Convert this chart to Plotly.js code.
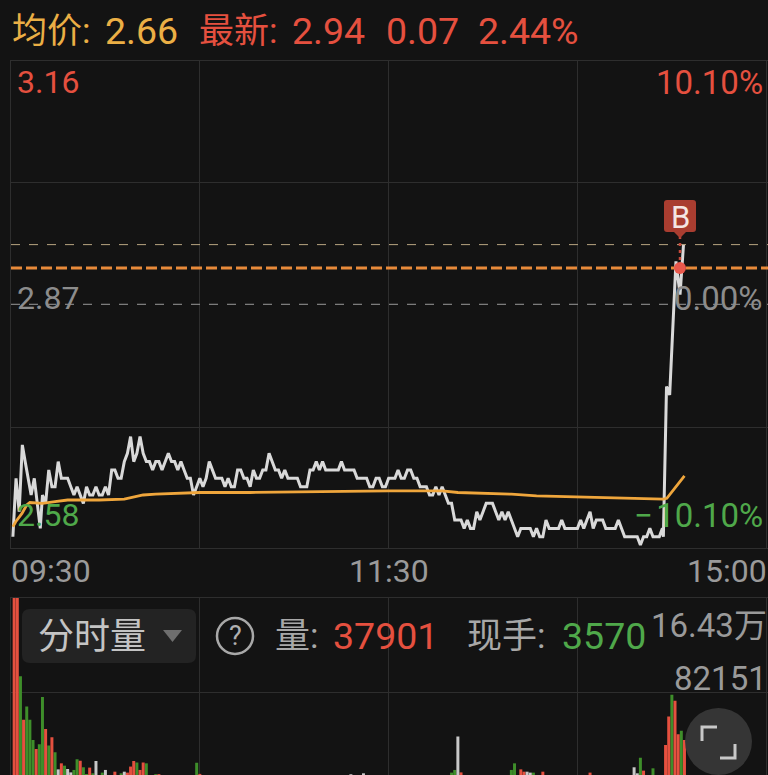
<!DOCTYPE html>
<html><head><meta charset="utf-8">
<script src="https://cdn.plot.ly/plotly-3.0.1.min.js"></script>
<style>html,body{margin:0;padding:0;background:#131313;overflow:hidden}#c{width:768px;height:775px}</style>
</head><body><div id="c"></div>
<script>
const price = [
2.59,2.66,2.62,2.70,2.68,2.66,2.64,2.66,2.63,2.60,
2.64,2.63,2.67,2.65,2.65,2.68,2.66,2.66,2.66,2.65,
2.64,2.65,2.64,2.63,2.65,2.64,2.64,2.65,2.64,2.64,
2.65,2.64,2.67,2.67,2.66,2.66,2.68,2.69,2.71,2.68,
2.69,2.71,2.69,2.68,2.68,2.67,2.68,2.68,2.67,2.68,
2.69,2.68,2.68,2.67,2.68,2.67,2.66,2.66,2.64,2.65,
2.66,2.65,2.66,2.68,2.67,2.66,2.66,2.66,2.65,2.66,
2.65,2.65,2.67,2.67,2.66,2.66,2.65,2.67,2.66,2.66,
2.67,2.67,2.69,2.68,2.67,2.67,2.66,2.67,2.66,2.66,
2.66,2.66,2.65,2.65,2.65,2.67,2.67,2.68,2.67,2.68,
2.67,2.67,2.67,2.67,2.67,2.68,2.67,2.67,2.67,2.67,
2.66,2.66,2.66,2.66,2.65,2.65,2.66,2.66,2.65,2.65,
2.66,2.66,2.66,2.67,2.66,2.66,2.67,2.67,2.66,2.66,
2.65,2.65,2.65,2.64,2.64,2.65,2.64,2.65,2.64,2.63,
2.63,2.61,2.61,2.61,2.60,2.61,2.60,2.60,2.62,2.61,
2.62,2.63,2.63,2.63,2.62,2.61,2.62,2.61,2.62,2.61,
2.60,2.59,2.60,2.60,2.60,2.60,2.59,2.60,2.59,2.59,
2.61,2.60,2.60,2.60,2.60,2.61,2.60,2.60,2.60,2.60,
2.60,2.61,2.60,2.61,2.62,2.60,2.61,2.61,2.61,2.60,
2.60,2.60,2.60,2.61,2.60,2.59,2.59,2.59,2.59,2.59,
2.58,2.59,2.59,2.60,2.59,2.59,2.59,2.60,2.59,2.77,
2.76,2.84,2.92,2.88,2.94];
const priceMinuteShift = {0:0.6,1:0.6,2:0.6,3:0.6,4:0.5,5:0.5,6:0.4,7:0.4,8:0.3,9:0.3,208:-0.7,209:-0.7,210:-0.7,211:-0.7,212:-0.7,213:-0.4,214:-0.3};
const avgMinute = [0.6,1.5,3.5,5,6,10,14,18,28,36,42,46,60,76,120,137,142,159,167,207.3,208.4,214];
const avgPrice = [2.602,2.608,2.618,2.628,2.631,2.63,2.632,2.634,2.634,2.635,2.64,2.641,2.643,2.643,2.645,2.645,2.643,2.641,2.639,2.635,2.636,2.663];
const redMinute = [1,2,4,8,11,13,16,22,25,33,37,38,39,41,42,47,60,143,162,163,169,184,201,208,209,211,212,214];
const redVol = [164300,164300,58800,33700,51000,43800,21300,23600,17600,14100,13300,18500,23300,15600,22000,12000,12200,13500,16100,14100,14100,13300,15000,37200,61700,75200,46400,41500];
const greenMinute = [3,5,6,7,9,10,12,14,17,20,21,23,24,26,29,35,40,43,46,59,140,141,159,160,166,200,204,210,213];
const greenVol = [96300,70300,58800,41500,37800,78400,36600,30800,19300,15600,24800,17900,12100,12700,13300,12700,22000,21300,12000,21800,13300,15600,15600,21300,13300,26200,17000,80400,49300];
const grayMinute = [15,18,19,27,30,36,108,112,142,164,165,198,199];
const grayVol = [16100,16400,13500,23300,15600,14100,11900,12700,44400,14100,13300,17900,12700];

const BG='#131313',GRID='#2e2e2e',RED='#E5503F',GREEN='#4FA84A',AMBER='#EBAF45',GREY='#9a9a9a';
const BARG='#3E8E2A';
const W=768,H=775;
const fx=x=>x/W, fy=y=>1-y/H;
const FONT='Roboto, "Noto Sans CJK SC", sans-serif';
const minutes=price.map((_,i)=>i+(priceMinuteShift[i]||0));
const xr=[0,(W-11)/3.147];

function txt(x,y,text,size,color,anchor){
  return {xref:'paper',yref:'paper',x:fx(x),y:fy(y),text:text,showarrow:false,
    xanchor:anchor||'left',yanchor:'middle',font:{family:FONT,size:size,color:color},borderpad:0,borderwidth:0,captureevents:false};
}
function pr(d,fill,extra){return Object.assign({type:'path',xref:'paper',yref:'paper',path:d,fillcolor:fill||'rgba(0,0,0,0)',line:{width:0}},extra||{});}
const P=(x,y)=>fx(x)+' '+fy(y);

const annotations=[
 txt(12,31,'均价:',35,AMBER),
 txt(105,31,'2.66',37.5,AMBER),
 txt(199,31,'最新:',35,RED),
 txt(292,31,'2.94',37.5,RED),
 txt(386,31,'0.07',37.5,RED),
 txt(478,31,'2.44%',37.5,RED),
 txt(17,82,'3.16',32,RED),
 txt(763,82,'10.10%',33,RED,'right'),
 txt(17,298,'2.87',32,'#8c8c8c'),
 txt(763,298,'0.00%',33,'#8c8c8c','right'),
 txt(17,515,'2.58',32,GREEN),
 txt(763,515,'−\u200a10.10%',33,GREEN,'right'),
 txt(11,571,'09:30',32,GREY),
 txt(389,571,'11:30',32,GREY,'center'),
 txt(767,571,'15:00',32,GREY,'right'),
 txt(92,637,'分时量',36,'#c4c4c4','center'),
 txt(235,636,'?',27,'#b0b0b0','center'),
 txt(275,636,'量:',35,'#a8a8a8'),
 txt(333,636,'37901',37.5,RED),
 txt(467,636,'现手:',35,'#a8a8a8'),
 txt(562,636,'3570',37.5,GREEN),
 txt(767,625,'16.43万',33,GREY,'right'),
 txt(767,678,'82151',33,GREY,'right'),
 txt(680,217,'B',31,'#f4e6e3','center')
];

const hline=(y,color,w,dash)=>({type:'line',xref:'x',yref:'y',x0:xr[0],x1:xr[1],y0:y,y1:y,line:{color:color,width:w,dash:dash},layer:'above'});
const shapes=[
 hline(2.94,'#b8a480',1,'9px,9px'),
 hline(2.912,'#E88A3A',3,'11px,4px'),
 hline(2.8685,'#999999',1,'9px,9px'),
 {type:'line',xref:'paper',yref:'paper',x0:fx(680),x1:fx(680),y0:fy(236),y1:fy(268),line:{color:'#C5483A',width:2.5,dash:'3px,4px'}},
 {type:'circle',xref:'paper',yref:'paper',x0:fx(674),x1:fx(686),y0:fy(262),y1:fy(274),fillcolor:'#E8584C',line:{width:0}},
 pr(`M ${P(667,200)} L ${P(693,200)} Q ${P(696,200)} ${P(696,203)} L ${P(696,229)} Q ${P(696,232)} ${P(693,232)} L ${P(686,232)} L ${P(680,238)} L ${P(674,232)} L ${P(667,232)} Q ${P(664,232)} ${P(664,229)} L ${P(664,203)} Q ${P(664,200)} ${P(667,200)} Z`,'#A93D30'),
 pr(`M ${P(30,609)} L ${P(188,609)} Q ${P(196,609)} ${P(196,617)} L ${P(196,655)} Q ${P(196,663)} ${P(188,663)} L ${P(30,663)} Q ${P(22,663)} ${P(22,655)} L ${P(22,617)} Q ${P(22,609)} ${P(30,609)} Z`,'#232323'),
 pr(`M ${P(163,630)} L ${P(182,630)} L ${P(172.5,642)} Z`,'#6e6e6e'),
 {type:'circle',xref:'paper',yref:'paper',x0:fx(217),x1:fx(253),y0:fy(618),y1:fy(654),fillcolor:'rgba(0,0,0,0)',line:{color:'#a8a8a8',width:2.5}},
 {type:'circle',xref:'paper',yref:'paper',x0:fx(685),x1:fx(752),y0:fy(708),y1:fy(775),fillcolor:'rgba(55,55,55,0.95)',line:{width:0}},
 {type:'path',xref:'paper',yref:'paper',path:`M ${P(702,741)} L ${P(702,727)} L ${P(717,727)}`,line:{color:'#c8c8c8',width:3}},
 {type:'path',xref:'paper',yref:'paper',path:`M ${P(720,758)} L ${P(735,758)} L ${P(735,744)}`,line:{color:'#c8c8c8',width:3}}
];

const bar=(x,y,c,name)=>({type:'bar',x:x,y:y,xaxis:'x2',yaxis:'y2',marker:{color:c,line:{width:0}},width:0.95,name:name,hoverinfo:'skip'});
const data=[
 bar(greenMinute,greenVol,BARG,'跌'),
 bar(redMinute,redVol,RED,'涨'),
 bar(grayMinute,grayVol,'#c8c8c8','平'),
 {type:'scatter',mode:'lines',x:minutes,y:price,xaxis:'x',yaxis:'y',line:{color:'#d9d9d9',width:3,shape:'linear'},name:'最新',hoverinfo:'skip'},
 {type:'scatter',mode:'lines',x:avgMinute,y:avgPrice,xaxis:'x',yaxis:'y',line:{color:'#EFA63C',width:2.8},name:'均价',hoverinfo:'skip'}
];
const xa=a=>Object.assign({domain:[11/W,1],range:xr,tickmode:'array',tickvals:[60,120,180,240],ticks:'',showticklabels:false,showgrid:true,gridcolor:GRID,gridwidth:1,zeroline:false,showline:true,linecolor:GRID,linewidth:1,mirror:true,fixedrange:true},a);
const ya=a=>Object.assign({tickmode:'array',showticklabels:false,ticks:'',gridcolor:GRID,gridwidth:1,zeroline:false,showline:true,linecolor:GRID,linewidth:1,fixedrange:true},a);
const layout={
 width:W,height:H,margin:{l:0,r:0,t:0,b:0,pad:0},paper_bgcolor:BG,plot_bgcolor:BG,showlegend:false,barmode:'overlay',
 xaxis:xa({anchor:'y'}),
 xaxis2:xa({anchor:'y2'}),
 yaxis:ya({domain:[1-548/H,1-61/H],range:[2.5765,3.16],tickvals:[3.0149,2.7211]}),
 yaxis2:ya({domain:[0,1-597.5/H],range:[11241,164300],tickvals:[82151]}),
 annotations:annotations,shapes:shapes
};
Plotly.newPlot('c',data,layout,{staticPlot:true,displayModeBar:false});
</script></body></html>
